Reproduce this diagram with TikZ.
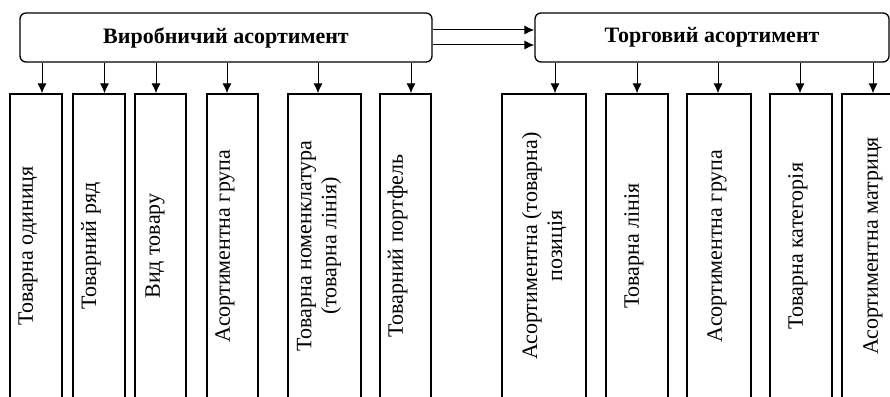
\documentclass[tikz,border=0pt]{standalone}
\usepackage{fontspec}
\setmainfont{Liberation Serif}
\usetikzlibrary{arrows.meta}
\tikzstyle{diagram} = [x=1pt, y=-1pt, >={Latex[length=10pt,width=9pt]}]
\tikzstyle{headStyle} = [draw, line width=1.3pt, rounded corners=6pt, minimum height=49, inner sep=0, font=\fontsize{22}{25}\selectfont\bfseries]
\tikzstyle{itemStyle} = [draw, line width=1.3pt, minimum height=304, inner sep=0]
\tikzstyle{itemText} = [rotate=90, align=center, inner sep=0, font=\fontsize{22}{25}\selectfont]
\tikzstyle{linkLine} = [->, line width=1pt]
\newcommand{\headBox}[4]{\node [headStyle, minimum width=#3] (#1) at (#2,37.5) {#4};}
\newcommand{\itemBox}[5]{\node [itemStyle, minimum width=#3] (#1) at (#2,246) {};
  \node [itemText] (#1Text) at ([xshift=#4]#1.center) {#5};}
\newcommand{\itemArrow}[3]{\coordinate (#1Top) at ([xshift=#3]#1.north);
  \draw [linkLine] (#1Top |- #2.south) -- (#1Top);}
\begin{document}
\begin{tikzpicture}[diagram]
\useasboundingbox (0,0) rectangle (890,396);
\clip (0,0) rectangle (890,396);
\headBox{prodHead}{226}{412}{Виробничий асортимент}
\headBox{tradeHead}{712}{354}{Торговий асортимент}
\draw [linkLine] ([yshift=7.5]prodHead.east) -- ([yshift=7.5]tradeHead.west);
\draw [linkLine] ([yshift=-7.5]prodHead.east) -- ([yshift=-7.5]tradeHead.west);
\itemBox{unit}{36}{52}{-8}{Товарна одиниця}\itemArrow{unit}{prodHead}{6}
\itemBox{range}{99}{52}{-8}{Товарний ряд}\itemArrow{range}{prodHead}{5.5}
\itemBox{kind}{160.5}{51}{-5.5}{Вид товару}\itemArrow{kind}{prodHead}{-4.5}
\itemBox{group}{232.5}{51}{-7.5}{Асортиментна група}\itemArrow{group}{prodHead}{-5.5}
\itemBox{line}{324.5}{73}{-5.5}{Товарна номенклатура\\(товарна лінія)}\itemArrow{line}{prodHead}{-6.5}
\itemBox{portfolio}{405.5}{51}{-8}{Товарний портфель}\itemArrow{portfolio}{prodHead}{5.5}
\itemBox{position}{544}{84}{0}{Асортиментна (товарна)\\позиція}\itemArrow{position}{tradeHead}{11}
\itemBox{tradeLine}{637}{62}{-3}{Товарна лінія}\itemArrow{tradeLine}{tradeHead}{0}
\itemBox{tradeGroup}{719}{64}{-2}{Асортиментна група}\itemArrow{tradeGroup}{tradeHead}{-1}
\itemBox{category}{801}{62}{-3}{Товарна категорія}\itemArrow{category}{tradeHead}{-1}
\itemBox{matrix}{873}{62}{0}{Асортиментна матриця}\itemArrow{matrix}{tradeHead}{0}
\end{tikzpicture}
\end{document}
